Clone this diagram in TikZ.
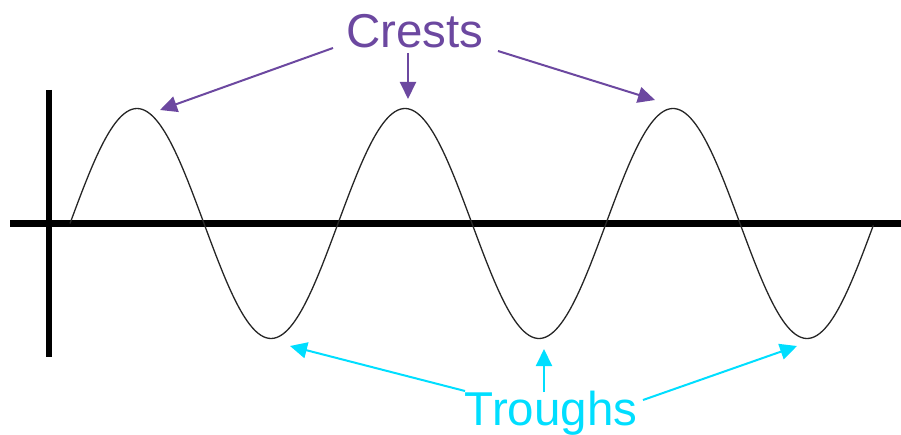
\documentclass[tikz,border=0pt]{standalone}
\usepackage{fontspec}
\setmainfont{Liberation Sans}
\usetikzlibrary{arrows.meta}
\definecolor{crestcol}{RGB}{108,72,160}
\definecolor{troughcol}{RGB}{0,222,255}
\tikzset{
  axisline/.style={line width=6.5pt, black},
  waveline/.style={line width=1.3pt, black!85},
  crestarrow/.style={crestcol, line width=2pt, -{Triangle[length=17pt,width=16pt]}},
  trougharrow/.style={troughcol, line width=2pt, -{Triangle[length=17pt,width=16pt]}},
  lbl/.style={inner sep=0pt, font=\fontsize{47.5}{50}\selectfont}
}
\begin{document}
\begin{tikzpicture}[x=1pt,y=-1pt]
\useasboundingbox (0,0) rectangle (901,435);
% axes
\coordinate (hl) at (10,223.5);
\coordinate (hr) at (901,223.5);
\coordinate (vt) at (49,90);
\coordinate (vb) at (49,357);
\draw[axisline] (hl) -- (hr);
\draw[axisline] (vt) -- (vb);
% wave
\draw[waveline] plot[domain=0:3, samples=300, smooth] ({70+268*\x}, {223.5 - 115*sin(360*\x)});
% labels
\node[lbl, text=crestcol, anchor=base] (crests) at (415,48) {Crests};
\node[lbl, text=troughcol, anchor=base] (troughs) at (551,425) {Troughs};
% crest arrows
\coordinate (c1s) at (333,48);
\coordinate (c1t) at (160,110);
\coordinate (c2s) at (408,53);
\coordinate (c2t) at (408,99);
\coordinate (c3s) at (498,51);
\coordinate (c3t) at (655,100);
\draw[crestarrow] (c1s) -- (c1t);
\draw[crestarrow] (c2s) -- (c2t);
\draw[crestarrow] (c3s) -- (c3t);
% trough arrows
\coordinate (t1s) at (465,391);
\coordinate (t1t) at (290,346);
\coordinate (t2s) at (544,392);
\coordinate (t2t) at (544,349);
\coordinate (t3s) at (643,400);
\coordinate (t3t) at (797,346);
\draw[trougharrow] (t1s) -- (t1t);
\draw[trougharrow] (t2s) -- (t2t);
\draw[trougharrow] (t3s) -- (t3t);
\end{tikzpicture}
\end{document}
